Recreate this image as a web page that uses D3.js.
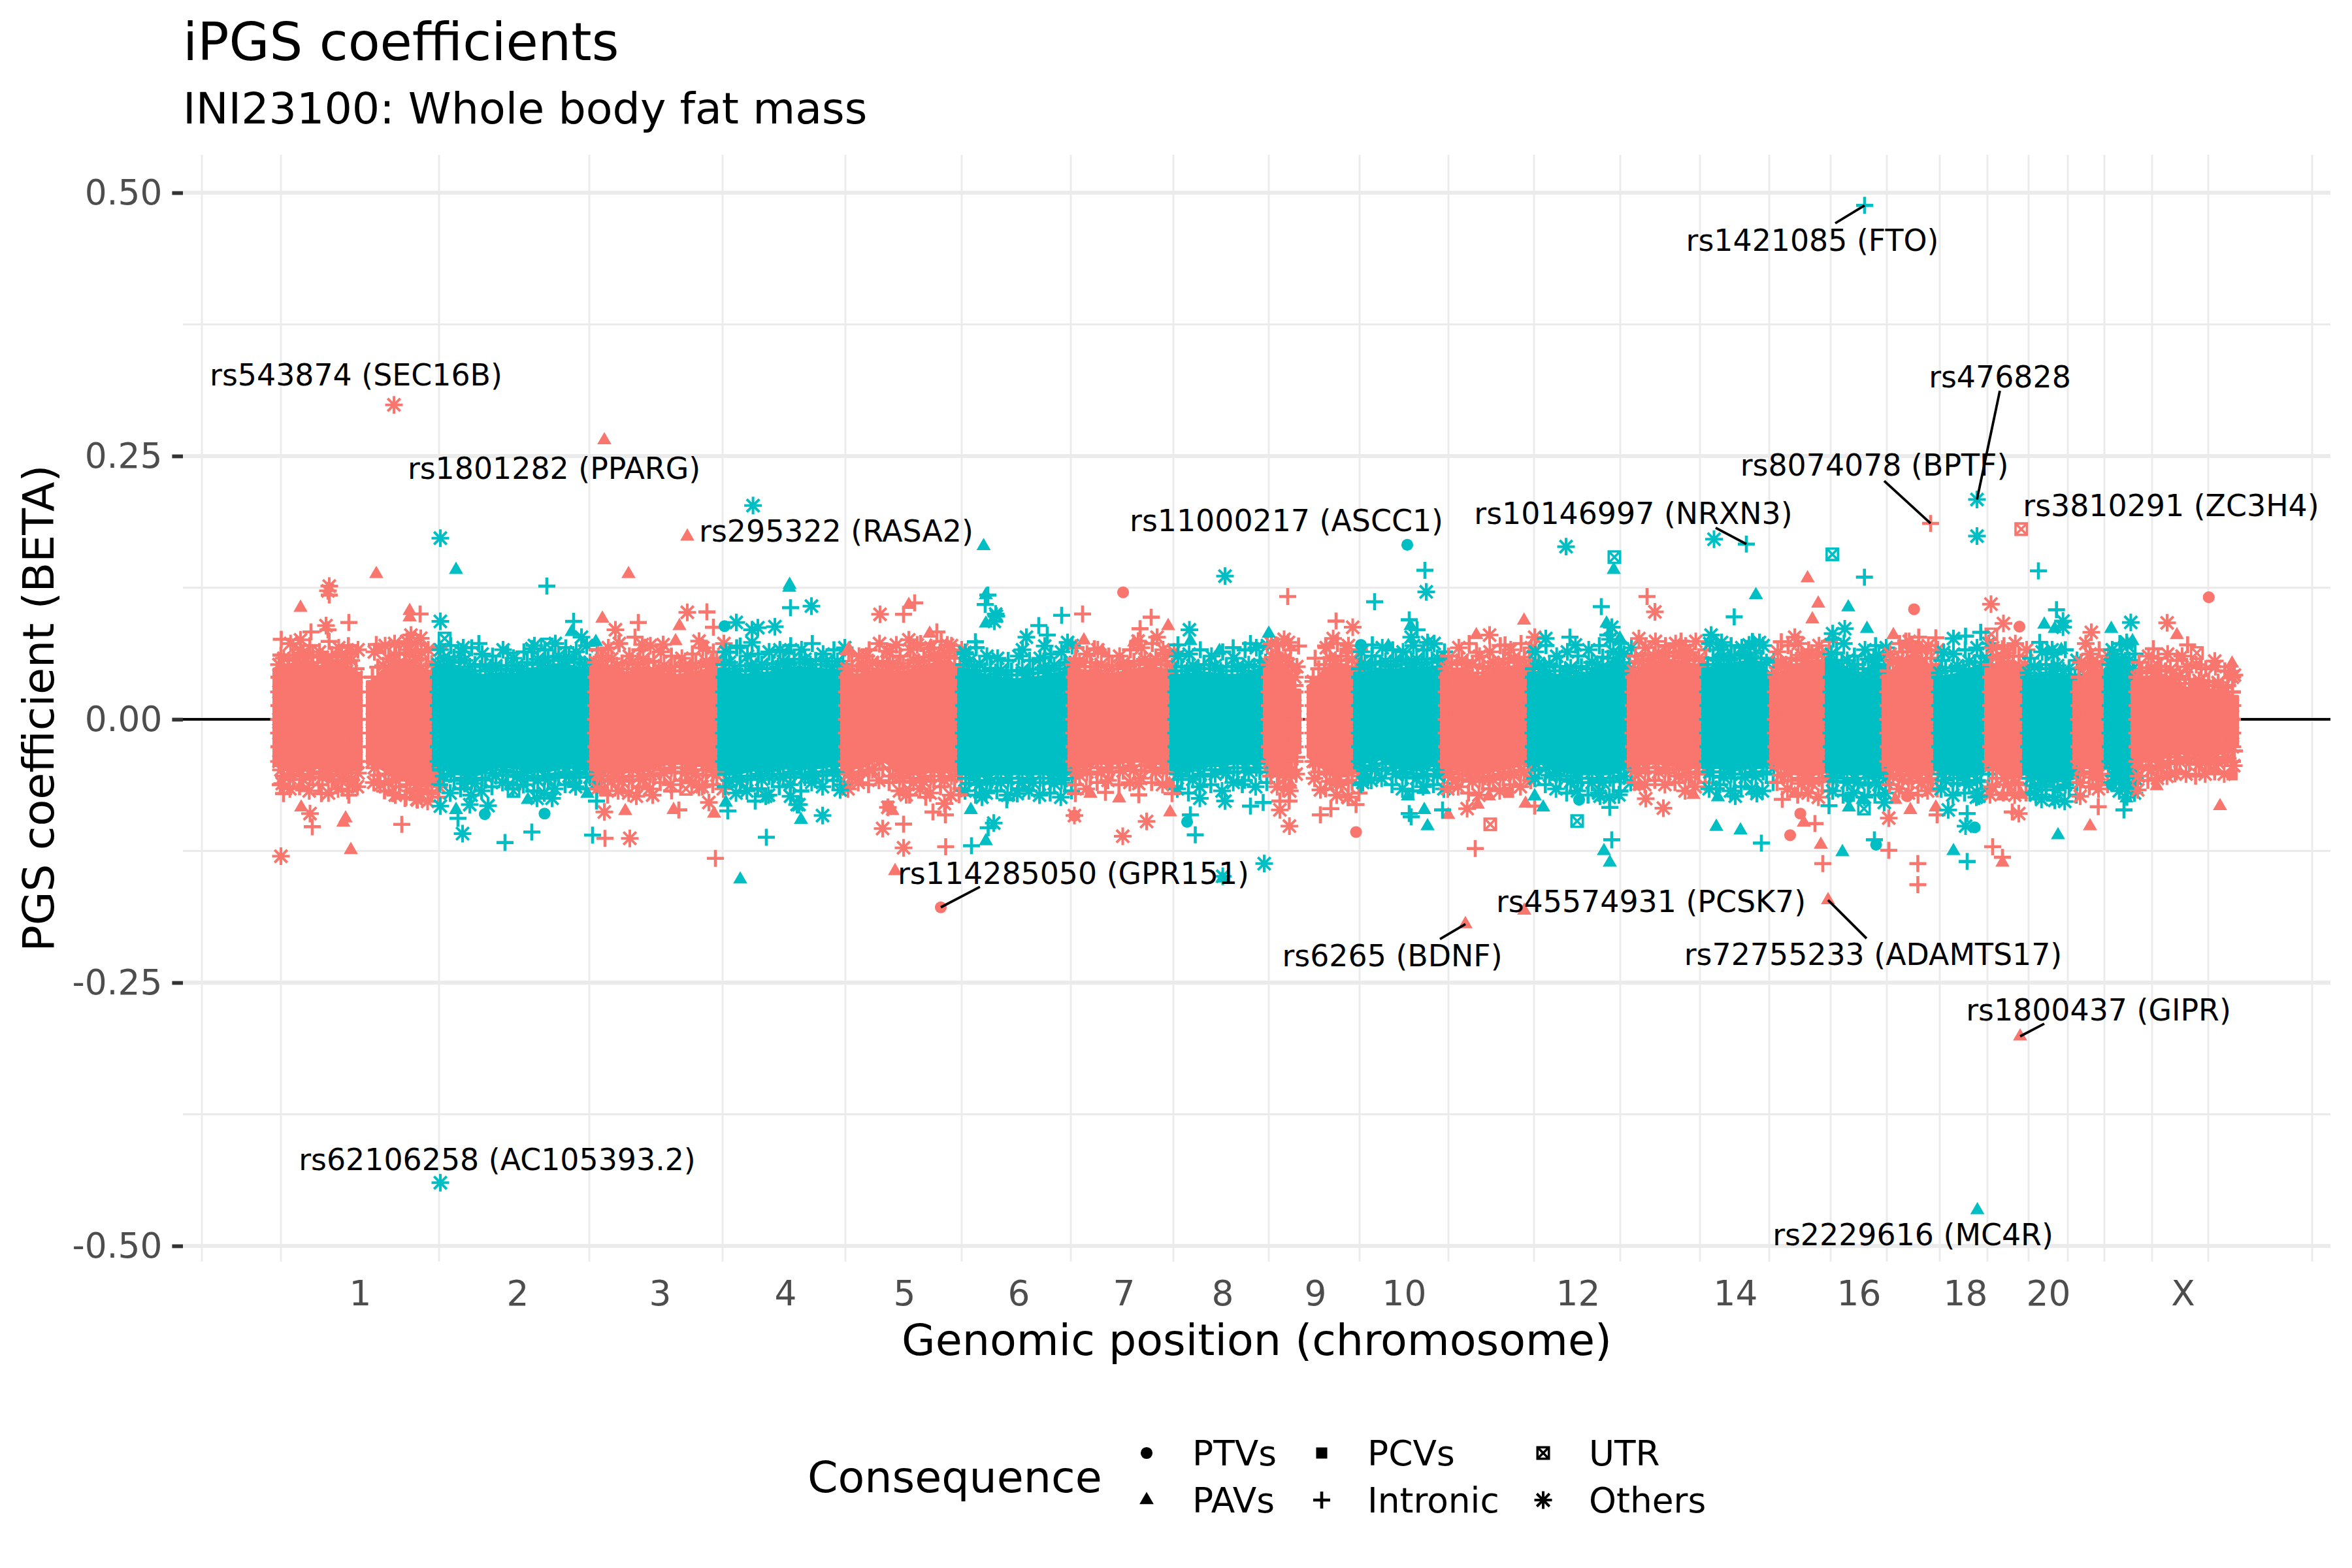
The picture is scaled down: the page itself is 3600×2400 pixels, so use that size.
<!DOCTYPE html>
<html><head><meta charset="utf-8">
<script src="https://cdnjs.cloudflare.com/ajax/libs/d3/7.8.5/d3.min.js"></script>
<style>html,body{margin:0;padding:0;background:#fff}svg{display:block}text{font-family:"DejaVu Sans",sans-serif}</style>
</head><body><svg id="c" width="3600" height="2400"></svg>
<script>
// Cumulative genomic position units; BETA on y.
const betaMajor=[-0.5,-0.25,0,0.25,0.5];
const betaMinor=[-0.375,-0.125,0.125,0.375];
const gridPositions=[-121,0,242,472,676,864,1042,1209,1366,1512,1651,1787,1918,2050,2172,2278,2372,2458,2539,2612,2675,2735,2791,2864,2950,3109];
const chromTickPos=[121,362,580,772,954,1129,1290,1441,1583,1719,1985,2226,2415,2578,2705,2911];
const chromTickLabels=["1","2","3","4","5","6","7","8","9","10","12","14","16","18","20","X"];

// Dense cloud of each chromosome arm: extent, group (0 odd / 1 even), upper and lower edge read at even steps
const bandStart=[-11,132,233,474,670,858,1037,1206,1362,1505,1572,1643,1776,1909,2062,2176,2280,2365,2452,2531,2609,2667,2744,2792,2833];
const bandEnd=[123,247,489,683,868,1047,1216,1372,1515,1560,1656,1786,1919,2072,2186,2290,2375,2462,2541,2619,2677,2754,2802,2843,2995];
const bandGroup=[0,0,1,0,1,0,1,0,1,0,0,1,0,1,0,1,0,1,0,1,0,1,0,1,0];
const bandUpper=[
[.056,.060,.062,.064,.058,.060,.063,.060,.052],
[.044,.055,.060,.066,.060,.055,.050],
[.056,.060,.058,.054,.050,.050,.052,.050,.052,.056,.058,.060,.060,.058,.056,.052],
[.058,.060,.055,.052,.056,.058,.052,.050,.050,.052,.054,.056,.056],
[.056,.052,.050,.052,.052,.054,.056,.058,.056,.056,.054,.056],
[.052,.050,.052,.056,.054,.052,.054,.058,.060,.062,.064,.052],
[.056,.054,.050,.047,.046,.046,.047,.048,.050,.052,.056],
[.056,.054,.054,.050,.052,.054,.056,.058,.056,.054],
[.050,.050,.052,.052,.050,.050,.050,.054,.058],
[.056,.062,.060,.056,.036],
[.040,.056,.060,.060,.054],
[.052,.052,.056,.054,.056,.058,.056,.058,.058],
[.052,.056,.056,.048,.052,.056,.058,.058,.060],
[.052,.054,.050,.050,.048,.052,.056,.062,.066,.058],
[.050,.060,.062,.064,.064,.062,.060,.056],
[.056,.060,.060,.062,.064,.062,.046],
[.048,.056,.060,.062,.064,.060],
[.066,.060,.052,.052,.062,.060],
[.050,.060,.068,.070,.062,.054],
[.048,.050,.052,.058,.062],
[.056,.062,.064,.056],
[.048,.052,.052,.050,.046],
[.044,.054,.056,.050],
[.056,.058,.060,.052],
[.044,.048,.050,.050,.044,.038,.038,.036,.036,.034,.030]];
const bandLower=[
[-.052,-.056,-.058,-.056,-.054,-.056,-.058,-.060,-.055],
[-.050,-.056,-.062,-.066,-.070,-.072,-.068],
[-.052,-.056,-.060,-.062,-.060,-.055,-.052,-.054,-.055,-.058,-.058,-.056,-.054,-.054,-.056,-.054],
[-.056,-.058,-.060,-.058,-.058,-.056,-.052,-.050,-.050,-.052,-.052,-.054,-.052],
[-.056,-.060,-.058,-.056,-.058,-.056,-.054,-.056,-.054,-.054,-.052,-.052],
[-.056,-.054,-.052,-.044,-.050,-.058,-.060,-.060,-.058,-.058,-.058,-.056],
[-.060,-.062,-.062,-.060,-.060,-.060,-.060,-.060,-.060,-.062,-.060],
[-.052,-.054,-.050,-.050,-.050,-.048,-.048,-.050,-.050,-.052],
[-.056,-.058,-.056,-.052,-.052,-.050,-.050,-.050,-.050],
[-.044,-.052,-.054,-.056,-.040],
[-.044,-.056,-.062,-.062,-.058],
[-.050,-.048,-.046,-.050,-.054,-.056,-.056,-.052,-.054],
[-.054,-.056,-.058,-.060,-.058,-.056,-.054,-.052,-.048],
[-.046,-.050,-.056,-.058,-.060,-.060,-.060,-.060,-.058,-.050],
[-.052,-.050,-.050,-.050,-.052,-.056,-.054,-.050],
[-.054,-.054,-.056,-.056,-.054,-.054,-.050],
[-.050,-.056,-.060,-.062,-.060,-.058],
[-.058,-.060,-.060,-.060,-.064,-.060],
[-.052,-.056,-.058,-.060,-.060,-.056],
[-.056,-.060,-.062,-.062,-.056],
[-.052,-.060,-.064,-.060],
[-.060,-.066,-.068,-.066,-.064],
[-.050,-.054,-.056,-.050],
[-.050,-.058,-.064,-.060],
[-.044,-.048,-.048,-.044,-.040,-.040,-.042,-.044,-.042,-.040,-.034]];
// Sparse glyphs just outside the cloud, read at even steps
const bandOuterUpper=[
[.061,.072,.066,.070,.064,.074,.068,.070,.066],
[.064,.070,.062,.074,.072,.066,.068],
[.066,.070,.064,.068,.062,.060,.066,.058,.064,.070,.066,.072,.068,.064,.070,.066],
[.066,.068,.072,.060,.066,.070,.064,.060,.058,.062,.068,.064,.072],
[.064,.068,.060,.062,.064,.066,.070,.066,.072,.062,.066,.068],
[.062,.060,.066,.072,.064,.060,.066,.072,.068,.074,.070,.066],
[.062,.068,.060,.058,.056,.060,.056,.058,.062,.064,.070],
[.068,.062,.066,.060,.060,.066,.068,.072,.066,.064],
[.060,.062,.066,.060,.064,.058,.066,.068,.070],
[.072,.070,.076,.066,.050],
[.058,.068,.072,.070,.066],
[.064,.060,.068,.066,.064,.070,.066,.072,.064],
[.060,.068,.072,.060,.064,.070,.066,.072,.068],
[.064,.070,.060,.064,.060,.066,.070,.076,.072,.068],
[.060,.068,.074,.070,.072,.070,.074,.066],
[.072,.066,.070,.068,.074,.070,.056],
[.064,.070,.072,.066,.070,.074],
[.076,.072,.060,.066,.070,.068],
[.062,.072,.074,.078,.070,.066],
[.056,.062,.066,.068,.072],
[.068,.070,.072,.066],
[.058,.064,.062,.066,.056],
[.054,.062,.066,.060],
[.066,.072,.070,.062],
[.054,.060,.058,.062,.056,.050,.052,.048,.050,.046,.042]];
const bandOuterLower=[
[-.062,-.066,-.064,-.068,-.062,-.070,-.066,-.068,-.064],
[-.060,-.068,-.072,-.074,-.076,-.078,-.074],
[-.062,-.070,-.066,-.072,-.068,-.064,-.060,-.066,-.062,-.068,-.070,-.066,-.062,-.064,-.066,-.060],
[-.066,-.072,-.068,-.070,-.064,-.066,-.060,-.062,-.058,-.060,-.064,-.062,-.066],
[-.064,-.070,-.068,-.066,-.072,-.064,-.062,-.068,-.060,-.064,-.058,-.062],
[-.066,-.060,-.062,-.058,-.060,-.068,-.072,-.066,-.070,-.064,-.072,-.066],
[-.068,-.072,-.070,-.068,-.072,-.066,-.068,-.072,-.070,-.074,-.068],
[-.062,-.066,-.060,-.058,-.062,-.060,-.056,-.060,-.062,-.064],
[-.066,-.070,-.064,-.062,-.068,-.060,-.058,-.064,-.060],
[-.054,-.064,-.066,-.068,-.052],
[-.056,-.066,-.072,-.074,-.070],
[-.062,-.058,-.056,-.062,-.066,-.068,-.064,-.062,-.066],
[-.066,-.064,-.070,-.072,-.066,-.068,-.062,-.064,-.058],
[-.056,-.062,-.066,-.070,-.068,-.072,-.070,-.074,-.068,-.060],
[-.060,-.062,-.058,-.062,-.060,-.068,-.064,-.060],
[-.066,-.062,-.068,-.064,-.066,-.068,-.060],
[-.060,-.066,-.072,-.070,-.074,-.068],
[-.068,-.072,-.070,-.074,-.072,-.070],
[-.062,-.066,-.070,-.072,-.068,-.066],
[-.066,-.072,-.070,-.074,-.066],
[-.064,-.070,-.072,-.070],
[-.070,-.076,-.074,-.078,-.072],
[-.060,-.064,-.066,-.062],
[-.060,-.068,-.074,-.070],
[-.054,-.058,-.056,-.054,-.050,-.052,-.054,-.052,-.050,-.052,-.044]];
const bandSideBeta=[-.04,-.026,-.013,0,.013,.026,.04];

// Consequence codes: T PTVs, A PAVs, C PCVs, I Intronic, U UTR, O Others
const oddChrVariants=[
["A",146,.138],["O",74,.1265],["O",72,.122],["I",74,.118],["A",30,.106],["O",69,.089],["I",72,.085],["I",104,.092],["I",.5,.076],["I",46,.083],["O",30,.0755],
["A",197,.103],["A",197,.097],["I",213,.100],["I",146,.071],["O",174,.072],["O",199,.080],["O",214,.077],["O",215,.064],["O",196,.066],["A",107,.065],["A",150,.066],
["A",31,-.0836],["O",44.5,-.0895],["I",48,-.102],["A",99,-.094],["A",95.5,-.098],["I",185,-.0997],["O",0,-.130],["A",107,-.124],
["I",4,-.0705],["A",32,-.0645],["I",62,-.0705],["I",104,-.072],["O",2,-.061],["O",110,-.062],["O",152,-.062],["I",171,-.0705],["I",190,-.075],["O",209,-.0765],["I",231,-.0705],
["O",495,-.088],["A",527,-.087],["I",496,-.113],["O",534,-.113],["A",601,-.086],["I",609,-.086],["O",655,-.079],["A",663,-.0895],["I",665,-.132],["O",544,-.073],["A",496,-.067],["O",569,-.072],["I",598,-.068],["U",620,-.066],["O",640,-.0645],
["A",492,.0957],["A",532,.138],["A",610,.0886],["O",622,.1016],["I",652,.102],["I",662,.0874],["I",547,.092],["O",512,.085],["O",518,.072],["I",542,.078],["O",553,.071],["O",585,.071],["A",604,.0743],["O",640,.0743],["A",649,.068],["I",493,.06],
["O",917,.0997],["I",953,.0997],["A",961,.1087],["I",970,.1106],["I",1004,.083],["A",993,.0814],["A",994.5,.0696],["O",942,.0707],["O",961,.0755],["O",974,.0707],["O",927.5,.0648],["O",1020,.0707],["O",896,.06],["A",869,.067],
["I",1227,.100],["T",1289,.1206],["I",1332,.097],["A",1358,.0886],["O",1341,.078],["I",1315,.086],["O",1312,.0743],["A",1229,.075],["A",1257,.065],["A",1306,.073],["I",1245,.067],["I",1352,.0624],["I",1216,.0577],
["I",1541,.1166],["O",1542,.073],["I",1522.5,.0707],["I",1557.6,.0696],["I",1615,.0933],["O",1640.5,.0874],["O",1610.6,.0767],["A",1630,.066],["I",1599,.0696],
["C",929,-.0824],["O",929,-.0836],["A",936,-.087],["O",921,-.1037],["I",953,-.0995],["O",953,-.122],["I",1017.5,-.121],["I",998,-.088],["I",1017,-.0907],["O",1015.5,-.08],["I",987,-.074],["O",957,-.0717],["I",1038,-.0717],["A",940,-.144],
["T",1214.5,-.0914],["O",1214.5,-.0914],["A",1239,-.0705],["I",1216,-.0705],["I",1262,-.0693],["A",1283,-.075],["I",1313,-.0717],["O",1313,-.061],["O",1325,-.097],["O",1288.5,-.111],["A",1361,-.0883],["A",1360,-.061],["I",1364,-.0705],
["O",1529,-.086],["I",1529,-.0776],["I",1543,-.0776],["O",1543.6,-.1014],["A",1545.5,-.062],["I",1591,-.0907],["I",1607,-.0848],["O",1634,-.074],["I",1645.6,-.081],["T",1645.6,-.107],["O",1591,-.067],
["A",1902.7,.0938],["I",2091,.1166],["O",2103,.102],["A",2353,.11],["A",2344,.095],["A",2336.7,.134],["T",2499.7,.1045],["O",2617.4,.1094],["T",2950.8,.1159],
["O",1850,.08],["A",1829.7,.08],["I",1873.6,.0707],["I",1830,.0636],["O",1919,.078],["O",2078.5,.0767],["I",2143,.0743],["O",2157,.0636],["I",2296.5,.0736],["O",2317,.078],["C",2295,.0527],
["A",2468,.08],["I",2487,.0743],["I",2533,.0774],["T",2504,.068],["U",2618,.0807],["O",2636.5,.091],["T",2661,.088],["I",2635,.067],["O",2771,.0826],["O",2762.5,.072],
["O",2887,.0916],["A",2902,.08],["I",2866,.067],["U",2932.5,.063],["I",2918.4,.0707],["O",2910,.06],["O",2960,.0553],["A",2986.4,.053],["O",2984.8,.0458],["I",2939,.049],
["A",1786.6,-.0907],["O",1815.6,-.0848],["U",1851,-.0997],["I",1828,-.1227],["A",1832,-.081],["A",1849,-.073],["C",1879,-.0693],["A",1905,-.08],["I",1919,-.0824],
["O",2116,-.0843],["A",2078.5,-.0634],["O",2089,-.0753],["A",2162,-.0717],
["I",2298,-.076],["A",2317,-.0705],["T",2325.6,-.0895],["A",2331,-.098],["I",2348,-.099],["T",2310,-.11],["A",2357,-.119],["I",2360,-.137],
["I",2461,-.1244],["I",2505.5,-.137],["I",2505.5,-.157],["O",2461,-.0938],["A",2494,-.086],["A",2533,-.0836],["I",2535,-.0907],["T",2489,-.073],["A",2471,-.0764],
["I",2620,-.121],["I",2635,-.131],["A",2635,-.136],["O",2660,-.0895],["I",2650,-.088],["A",2635,-.073],["O",2616,-.0717],["A",2664,-.0717],
["A",2769,-.1014],["I",2781.6,-.083],["O",2754,-.073],["I",2779,-.062],["O",2842,-.067],["A",2871,-.0634],["O",2899,-.0515],["A",2968,-.0824],["A",2961.5,-.048],["C",2986.4,-.0527]
];
const evenChrVariants=[
["O",722.6,.203],["A",268,.142],["I",407,.1265],["O",244,.172],["O",244,.093],["U",250.5,.0767],["I",303,.072],["O",279,.068],["I",448,.093],["A",445,.083],["O",460,.078],["A",482,.0736],["U",407,.071],["O",384,.067],["I",347,.063],
["A",778.6,.1277],["A",778,.125],["I",780,.106],["O",812,.1075],["T",679,.0885],["O",697,.092],["O",721,.085],["O",730,.087],["O",756,.088],["O",721,.073],["I",687,.0636],["I",703,.0696],["A",777,.065],["I",764,.065],
["O",244,-.0824],["A",268,-.086],["I",271,-.094],["O",278,-.1085],["T",312,-.09],["T",403.5,-.0895],["A",378,-.0765],["O",392,-.075],["O",415,-.075],["O",317,-.082],["O",289,-.081],["U",356,-.068],["I",347,-.06],["I",384,-.107],["I",343,-.117],["I",477,-.110],["A",469,-.0705],["I",483,-.0776],["I",448,-.06],
["I",684,-.087],["A",681,-.079],["I",743,-.112],["A",703,-.152],["A",796,-.0954],["O",793,-.081],["O",742,-.073],["O",780,-.073],["I",726,-.0776],["I",808,-.053],
["A",1075.5,.1645],["A",1079,.118],["I",1082,.118],["I",1078,.109],["O",1094,.100],["O",1095,.098],["A",1079,.091],["O",1092,.093],
["I",1195,.0988],["I",1160,.089],["O",1141,.078],["I",1173,.080],["I",1063,.0736],["O",1169,.0696],["O",1204,.073],["O",1135,.066],["I",1169,.059],["O",1047,.0636],
["O",1445,.136],["I",1751,.1415],["O",1753,.121],["I",1674,.1116],["I",1727,.0945],["A",1729,.0886],["O",1390.5,.085],["A",1392,.0743],["I",1373,.0707],["A",1512,.0814],["I",1457.5,.068],["A",1436.5,.065],["I",1484,.072],["T",1653,.0707],["I",1670.5,.0707],["O",1730,.078],["I",1739,.085],["O",1755,.073],["A",1695,.0696],
["O",829,-.0914],["O",856,-.067],["O",790,-.081],
["A",1056,-.086],["O",1091,-.0985],["I",1082.5,-.103],["A",1079,-.1156],["I",1057,-.12],["I",1111,-.0764],["O",1073,-.074],["O",1127,-.0705],
["I",1392,-.0907],["T",1387,-.0973],["I",1399.5,-.1097],["O",1445,-.0776],["I",1471.5,-.062],["O",1406.5,-.075],["I",1484,-.0824],["I",1503.4,-.079],["O",1505,-.137],["O",1441.6,-.149],["A",1441,-.151],
["I",1727,-.0895],["I",1730,-.0926],["A",1750,-.086],["A",1755,-.1014],["A",1725,-.073],["A",1749,-.067],["O",1656,-.06],
["O",1967,.164],["U",2041,.154],["A",2040,.142],["O",2193.5,.171],["U",2374.6,.1567],["I",2423.7,.135],["I",2690,.141],["O",2596,.174],
["I",2021,.107],["A",2029,.091],["O",2037,.0874],["I",2224.4,.0973],["A",2257.6,.118],["A",2399,.1064],["O",2393.6,.086],["A",2427.6,.086],["O",2375,.0814],
["O",1936,.0767],["I",1973,.078],["O",1981.4,.0707],["I",2031,.08],["A",2049.4,.0767],["O",2189,.08],["O",2205,.073],["O",2247,.0707],["O",2263,.073],
["O",2545,.0636],["O",2560,.0767],["I",2578.5,.079],["I",2601.7,.0826],["A",2699,.09],["A",2715,.086],["O",2727.7,.0933],["O",2727.7,.0874],["I",2717.7,.104],["I",2692,.073],["O",2711,.066],["A",2725,.066],["A",2801.5,.086],["O",2831.4,.092],["O",2825,.073],["A",2834,.0743],["I",2810.6,.0577],
["I",1778,-.086],["A",1919,-.073],["A",1932,-.0836],["T",1987,-.0764],["U",1984,-.0966],["I",2034,-.0836],["I",2037,-.1144],["A",2025,-.125],["A",2034,-.136],["O",2019,-.073],["O",2048,-.0717],
["A",2197,-.102],["A",2234,-.1054],["I",2266,-.1175],["A",2199.5,-.074],["O",2226,-.073],["I",2197,-.066],["O",2259,-.0705],
["A",2390,-.126],["T",2441.6,-.119],["I",2439,-.1144],["I",2369.5,-.082],["A",2400,-.0836],["U",2423,-.0848],["A",2421,-.0764],["O",2454,-.079],["T",2400,-.074],
["A",2560,-.125],["I",2581,-.135],["I",2581,-.0895],["O",2578.5,-.1014],["T",2592.5,-.1026],["O",2552,-.086],["O",2599,-.073],
["A",2720,-.11],["O",2715,-.077],["O",2686,-.0717],["I",2821,-.086],["A",2824.7,-.075],["T",2802,-.062],["O",2823,-.0658]
];

// Annotated variants
const labelNames=["rs1421085 (FTO)","rs543874 (SEC16B)","rs476828","rs1801282 (PPARG)","rs8074078 (BPTF)","rs3810291 (ZC3H4)","rs10146997 (NRXN3)","rs11000217 (ASCC1)","rs295322 (RASA2)","rs114285050 (GPR151)","rs45574931 (PCSK7)","rs6265 (BDNF)","rs72755233 (ADAMTS17)","rs1800437 (GIPR)","rs62106258 (AC105393.2)","rs2229616 (MC4R)"];
const labelVariantCode=["I","O","O","A","I","U","I","T","A","T","A","A","A","A","O","A"];
const labelVariantGroup=[1,0,1,0,0,0,1,1,0,0,0,0,0,0,1,1];
const labelVariantPos=[2424,173,2596,495,2525,2663.7,2243,1724,622,1010,1903,1813,2368,2662,244,2596.6];
const labelVariantBeta=[.488,.2986,.2087,.265,.186,.1806,.1664,.1657,.1736,-.1785,-.1816,-.1944,-.1716,-.301,-.44,-.466];
const labelTextPos=[2344,115,2631,418,2439,2893,2070,1539,850,1213,2097,1701,2437,2782,331,2498];
const labelTextBeta=[.455,.327,.3255,.2386,.2414,.203,.196,.1887,.1788,-.146,-.173,-.2244,-.223,-.2756,-.418,-.489];
const connectorPos=[2379,null,2631,null,2454,null,2196,null,null,1070,null,1774,2427,2699,null,null];
const connectorBeta=[.471,null,.312,null,.2264,null,.1818,null,null,-.159,null,-.2087,-.208,-.289,null,null];

const legendCodes=["T","A","C","I","U","O"];
const legendNames=["PTVs","PAVs","PCVs","Intronic","UTR","Others"];

const groupColors=["#F8766D","#00BFC4"];

const W=3600,H=2400,L=280,R=3567,T=237,B=1931;
const x=d3.scaleLinear().domain([-150,3137]).range([L,R]);
const y=d3.scaleLinear().domain([0,0.5]).range([1101,295]);
const svg=d3.select("#c");

// custom stroked symbols for the library's symbol generator
const symPlus={draw(c,s){const r=Math.sqrt(s);c.moveTo(-r,0);c.lineTo(r,0);c.moveTo(0,-r);c.lineTo(0,r);}};
const symStar={draw(c,s){const r=Math.sqrt(s),d=r*.72;c.moveTo(-r,0);c.lineTo(r,0);c.moveTo(0,-r);c.lineTo(0,r);c.moveTo(-d,-d);c.lineTo(d,d);c.moveTo(-d,d);c.lineTo(d,-d);}};
const symUtr={draw(c,s){const r=Math.sqrt(s);c.moveTo(-r,-r);c.lineTo(r,-r);c.lineTo(r,r);c.lineTo(-r,r);c.closePath();c.moveTo(-r,-r);c.lineTo(r,r);c.moveTo(-r,r);c.lineTo(r,-r);}};
const shapes={
 T:{t:d3.symbolCircle,s:260,fill:true},
 A:{t:d3.symbolTriangle,s:205,fill:true},
 C:{t:d3.symbolSquare,s:290,fill:true},
 I:{t:symPlus,s:169,w:4.6},
 U:{t:symUtr,s:76,w:3.6},
 O:{t:symStar,s:182,w:4}
};
function glyph(sel,code,color){
 const sh=shapes[code];
 sel.attr("d",d3.symbol().type(sh.t).size(sh.s)());
 if(sh.fill) sel.attr("fill",color).attr("stroke","none");
 else sel.attr("fill","none").attr("stroke",color).attr("stroke-width",sh.w);
}
function drawPoints(g,data,color){
 g.selectAll(null).data(data).join("path")
  .attr("transform",d=>`translate(${x(d[1])},${y(d[2])})`)
  .each(function(d){glyph(d3.select(this),d[0],color);});
}

// grid
const grid=svg.append("g");
grid.selectAll(null).data(gridPositions).join("line").attr("x1",d=>x(d)).attr("x2",d=>x(d)).attr("y1",T).attr("y2",B).attr("stroke","#EBEBEB").attr("stroke-width",2.9);
grid.selectAll(null).data(betaMinor).join("line").attr("x1",L).attr("x2",R).attr("y1",d=>y(d)).attr("y2",d=>y(d)).attr("stroke","#EBEBEB").attr("stroke-width",2.9);
grid.selectAll(null).data(betaMajor).join("line").attr("x1",L).attr("x2",R).attr("y1",d=>y(d)).attr("y2",d=>y(d)).attr("stroke","#EBEBEB").attr("stroke-width",5.8);

// zero line
svg.append("line").attr("x1",L).attr("x2",R).attr("y1",y(0)).attr("y2",y(0)).attr("stroke","#000").attr("stroke-width",3.8);

// axes
const fmtBeta=d3.format(".2f");
const yAxis=d3.axisLeft(y).tickValues(betaMajor).tickFormat(d=>fmtBeta(d).replace("\u2212","-")).tickSize(16.6).tickPadding(15);
const ga=svg.append("g").attr("transform",`translate(${L},0)`).call(yAxis);
ga.select(".domain").remove();
ga.selectAll("line").attr("stroke","#333").attr("stroke-width",5.8);
ga.selectAll("text").attr("fill","#4D4D4D").attr("font-size",53.33).attr("font-family","DejaVu Sans");
const xAxis=d3.axisBottom(x).tickValues(chromTickPos).tickFormat((d,i)=>chromTickLabels[i]).tickSize(0).tickPadding(0);
const gx=svg.append("g").attr("transform",`translate(0,${1958})`).call(xAxis);
gx.select(".domain").remove();
gx.selectAll("text").attr("fill","#4D4D4D").attr("font-size",53.33).attr("font-family","DejaVu Sans").attr("y",0).attr("dy","0.75em");

// dense clouds, in chromosome order
const solidInset=.008;
const sideInset=8;
const area=d3.area().x(d=>x(d.p)).y0(d=>y(d.lo+solidInset)).y1(d=>y(d.hi-solidInset));
const fringeCycle=["O","I","O","O","I","O","I"];
bandStart.forEach((s,k)=>{
 const col=groupColors[bandGroup[k]],up=bandUpper[k],lo=bandLower[k];
 const ou=bandOuterUpper[k],ol=bandOuterLower[k];
 const step=d3.scaleLinear().domain([0,up.length-1]).range([s+sideInset,bandEnd[k]-sideInset]);
 const rows=up.map((u,i)=>({p:step(i),hi:u,lo:lo[i]}));
 const g=svg.append("g");
 const outline=[{p:s,hi:up[0],lo:lo[0]},...rows,{p:bandEnd[k],hi:up[up.length-1],lo:lo[up.length-1]}];
 g.append("path").datum(outline).attr("d",area).attr("fill",col).attr("stroke",col).attr("stroke-width",4).attr("stroke-linejoin","round");
 const fringe=[];
 rows.forEach((r,i)=>{
  fringe.push([fringeCycle[(i+k)%7],r.p,r.hi-.004]);
  fringe.push([fringeCycle[(i+k+2)%7],r.p+3,r.lo+.004]);
  fringe.push([fringeCycle[(i+k+1)%7],r.p+3,ou[i]]);
  fringe.push([fringeCycle[(i+k+4)%7],r.p+2,ol[i]]);
  if(i<rows.length-1){
   const mid=(r.p+rows[i+1].p)/2;
   fringe.push([fringeCycle[(i+k+3)%7],mid,(r.hi+rows[i+1].hi)/2]);
   fringe.push([fringeCycle[(i+k+5)%7],mid,(r.lo+rows[i+1].lo)/2]);
  }
 });
 bandSideBeta.forEach((b,i)=>{fringe.push([fringeCycle[i%7],s+sideInset,b]);fringe.push([fringeCycle[(i+1)%7],bandEnd[k]-sideInset,b]);});
 drawPoints(g,fringe,col);
});

// individual variants
const pts=svg.append("g");
drawPoints(pts.append("g"),oddChrVariants,groupColors[0]);
drawPoints(pts.append("g"),evenChrVariants,groupColors[1]);
labelNames.forEach((n,i)=>{
 drawPoints(pts.append("g"),[[labelVariantCode[i],labelVariantPos[i],labelVariantBeta[i]]],groupColors[labelVariantGroup[i]]);
});

// connectors and labels
const ann=svg.append("g");
labelNames.forEach((n,i)=>{
 if(connectorPos[i]!==null) ann.append("line").attr("x1",x(labelVariantPos[i])).attr("y1",y(labelVariantBeta[i])).attr("x2",x(connectorPos[i])).attr("y2",y(connectorBeta[i])).attr("stroke","#000").attr("stroke-width",3.8);
});
ann.selectAll("text").data(labelNames).join("text").text(d=>d)
 .attr("x",(d,i)=>x(labelTextPos[i])).attr("y",(d,i)=>y(labelTextBeta[i])).attr("dy","0.36em")
 .attr("text-anchor","middle").attr("font-size",45.83).attr("fill","#000");

// titles
svg.append("text").text("iPGS coefficients").attr("x",280).attr("y",92).attr("font-size",80);
svg.append("text").text("INI23100: Whole body fat mass").attr("x",280).attr("y",189).attr("font-size",66.67);
svg.append("text").text("Genomic position (chromosome)").attr("x",1923.5).attr("y",2074).attr("text-anchor","middle").attr("font-size",66.67);
svg.append("text").text("PGS coefficient (BETA)").attr("transform","translate(82,1084) rotate(-90)").attr("text-anchor","middle").attr("font-size",66.67);

// legend
svg.append("text").text("Consequence").attr("x",1236).attr("y",2284).attr("font-size",66.67);
const legX=[1755,1755,2023,2023,2362,2362],legY=[2224,2296,2224,2296,2224,2296],legTx=[1825,1825,2093,2093,2432,2432];
legendCodes.forEach((c,i)=>{
 svg.append("path").attr("transform",`translate(${legX[i]},${legY[i]})`).call(glyph,c,"#000");
 svg.append("text").text(legendNames[i]).attr("x",legTx[i]).attr("y",legY[i]).attr("dy","0.36em").attr("font-size",53.33);
});
</script></body></html>
